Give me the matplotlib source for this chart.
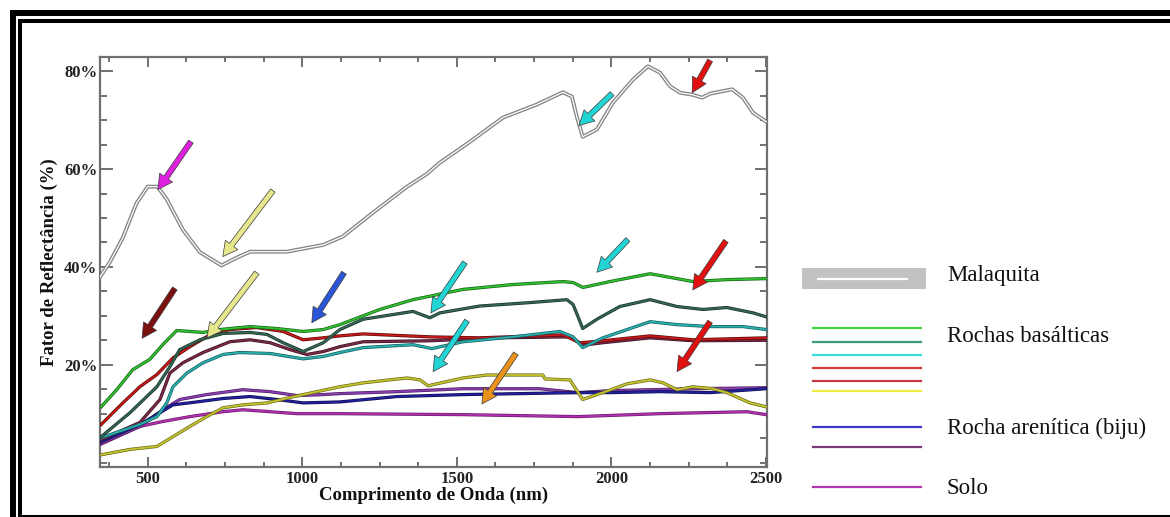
import matplotlib
matplotlib.use("Agg")
import matplotlib.pyplot as plt
import matplotlib.patheffects as pe
from matplotlib.lines import Line2D
from matplotlib.patches import Rectangle
from matplotlib.ticker import MultipleLocator, FuncFormatter

# ---------------- data ----------------
mal_wl = [346, 378, 420, 464, 500, 532, 562, 614, 669, 739, 789, 831, 950, 1068, 1131, 1229, 1339,
          1403, 1445, 1543, 1649, 1759, 1843, 1872, 1888, 1907, 1953, 2005, 2070, 2118, 2157, 2190,
          2222, 2261, 2293, 2319, 2390, 2425, 2458, 2500]
mal = [37.9, 41.0, 46.0, 53.0, 56.4, 56.4, 53.8, 47.6, 43.0, 40.3, 41.9, 43.1, 43.1, 44.5, 46.2, 51.1,
       56.4, 59.0, 61.3, 65.6, 70.5, 73.2, 75.7, 74.8, 70.7, 66.6, 68.1, 73.6, 78.3, 81.0, 79.7, 76.9,
       75.6, 75.2, 74.6, 75.4, 76.3, 74.6, 71.5, 69.7]

green_wl = [350, 400, 452, 507, 549, 594, 637, 679, 734, 831, 918, 1003, 1068, 1122, 1251, 1358, 1520,
            1682, 1843, 1876, 1908, 1995, 2125, 2264, 2373, 2500]
green = [11.4, 14.9, 19.0, 21.1, 24.1, 27.0, 26.8, 26.6, 27.2, 27.8, 27.4, 26.8, 27.2, 28.2, 31.3, 33.3,
         35.4, 36.4, 37.0, 36.8, 35.8, 37.0, 38.6, 37.0, 37.4, 37.6]

teal_wl = [350, 443, 530, 572, 604, 669, 744, 831, 886, 938, 1003, 1068, 1122, 1197, 1358, 1413, 1445,
           1574, 1736, 1856, 1876, 1892, 1907, 1953, 2027, 2125, 2212, 2296, 2373, 2458, 2500]
teal = [5.3, 10.2, 15.5, 19.6, 23.1, 25.1, 26.4, 26.6, 26.2, 24.5, 22.7, 24.5, 27.2, 29.3, 30.9, 29.6,
        30.6, 32.0, 32.7, 33.3, 32.3, 29.8, 27.4, 29.3, 31.9, 33.3, 31.9, 31.3, 31.7, 30.6, 29.8]

cyan_wl = [350, 475, 530, 562, 582, 627, 679, 744, 798, 896, 1003, 1068, 1122, 1197, 1358, 1419, 1520,
           1682, 1833, 1876, 1907, 1972, 2125, 2212, 2319, 2425, 2500]
cyan = [5.1, 7.8, 9.4, 12.2, 15.5, 18.3, 20.4, 22.1, 22.5, 22.3, 21.2, 21.7, 22.5, 23.5, 24.1, 23.3,
        24.7, 25.7, 26.8, 25.7, 23.5, 25.5, 28.8, 28.2, 27.8, 27.8, 27.2]

red_wl = [350, 420, 475, 530, 582, 637, 701, 766, 853, 938, 1003, 1068, 1122, 1197, 1413, 1574, 1843,
          1898, 1940, 2125, 2264, 2500]
red = [7.8, 12.2, 15.5, 18.0, 21.4, 23.7, 26.1, 27.2, 27.6, 26.8, 25.1, 25.5, 25.9, 26.3, 25.7, 25.5,
       26.1, 24.5, 24.7, 25.9, 25.1, 25.5]

maroon_wl = [350, 475, 540, 572, 614, 679, 766, 831, 896, 960, 1015, 1068, 1122, 1197, 1413, 1629,
             1866, 1907, 1972, 2125, 2264, 2500]
maroon = [4.7, 8.2, 12.9, 18.3, 20.4, 22.5, 24.7, 25.1, 24.5, 23.1, 22.1, 22.7, 23.7, 24.7, 24.9, 25.5,
          25.7, 24.0, 24.5, 25.5, 24.9, 25.0]

yellow_wl = [350, 443, 530, 582, 637, 691, 744, 808, 886, 960, 1047, 1122, 1197, 1339, 1381, 1407,
             1520, 1597, 1778, 1785, 1866, 1880, 1907, 1972, 2050, 2125, 2167, 2212, 2264, 2329, 2373,
             2448, 2500]
yellow = [1.6, 2.7, 3.3, 5.3, 7.4, 9.4, 11.2, 11.8, 12.2, 13.3, 14.5, 15.5, 16.3, 17.3, 16.9, 15.7,
          17.3, 17.9, 17.9, 17.1, 16.9, 15.5, 12.9, 14.3, 16.1, 16.9, 16.3, 14.9, 15.5, 15.1, 14.3,
          12.2, 11.4]

blue_wl = [350, 475, 540, 582, 659, 744, 831, 918, 1003, 1122, 1306, 1520, 1891, 1995, 2157, 2319, 2500]
blue = [4.3, 7.8, 10.2, 11.8, 12.4, 13.1, 13.5, 12.9, 12.2, 12.4, 13.5, 13.9, 14.3, 14.3, 14.5, 14.3, 15.1]

purple_wl = [350, 475, 549, 604, 691, 808, 896, 983, 1068, 1122, 1306, 1520, 1768, 1891, 1995, 2264, 2500]
purple = [4.0, 7.4, 10.8, 12.9, 13.9, 14.9, 14.5, 13.7, 13.9, 14.1, 14.5, 15.1, 15.1, 14.3, 14.7, 15.1, 15.3]

solo_wl = [350, 475, 549, 637, 744, 808, 896, 983, 1122, 1520, 1891, 2157, 2438, 2500]
solo = [3.8, 7.4, 8.4, 9.4, 10.4, 10.8, 10.4, 10.0, 10.0, 9.8, 9.4, 10.0, 10.4, 9.8]

# arrows: tail / head positions (data units) and colours
arrow_tail_wl = [640, 905, 2002, 2319, 588, 853, 1135, 1526, 1533, 1691, 2053, 2370, 2319]
arrow_tail_v = [65.6, 55.6, 75.4, 82.2, 35.6, 38.8, 38.8, 40.9, 29.0, 22.3, 45.6, 45.3, 28.8]
arrow_head_wl = [533, 743, 1895, 2261, 482, 692, 1031, 1416, 1423, 1581, 1953, 2263, 2212]
arrow_head_v = [55.8, 42.1, 68.9, 75.6, 25.4, 25.5, 28.6, 30.6, 18.6, 12.0, 38.9, 35.3, 18.6]
arrow_colors = ["#e020e0", "#e6e68c", "#22d4d4", "#e01010", "#7a1010", "#e6e68c", "#2a55d8",
                "#22d4d4", "#22d4d4", "#e8921c", "#22d4d4", "#e01010", "#e01010"]

x_ticks = [500, 1000, 1500, 2000, 2500]
y_ticks = [20, 40, 60, 80]

legend_groups = ["Malaquita", "Rochas basálticas", "Rocha arenítica (biju)", "Solo"]

# ---------------- figure ----------------
W, H = 1170, 517
fig = plt.figure(figsize=(W / 100, H / 100), dpi=100)
fig.patch.set_facecolor("white")

ax = fig.add_axes([100 / W, 1 - 467 / H, 667 / W, 410 / H])
ax.set_xlim(346, 2503)
ax.set_ylim(-0.9, 82.9)

serif = ["Liberation Serif", "DejaVu Serif"]

def curve(x, y, col, edge, lw=1.3):
    ax.plot(x, y, color=col, lw=lw, solid_joinstyle="round", zorder=3,
            path_effects=[pe.Stroke(linewidth=lw + 1.0, foreground=edge), pe.Normal()])

# malaquita: double gray line (gray outline with white core)
ax.plot(mal_wl, mal, color="white", lw=0.9, zorder=4, solid_joinstyle="round",
        path_effects=[pe.Stroke(linewidth=2.8, foreground="#858585"), pe.Normal()])

curve(solo_wl, solo, "#b030b0", "#6a1a6a")
curve(purple_wl, purple, "#8a3cb0", "#4a2060")
curve(blue_wl, blue, "#2020a0", "#10104a")
curve(yellow_wl, yellow, "#c4c430", "#6a6a18")
curve(maroon_wl, maroon, "#7a2a48", "#3a1020")
curve(red_wl, red, "#c81818", "#5a0a0a")
curve(cyan_wl, cyan, "#2ab0b0", "#145a5a")
curve(teal_wl, teal, "#336655", "#1a3328")
curve(green_wl, green, "#30c030", "#156015")

for tx, tv, hx, hv, col in zip(arrow_tail_wl, arrow_tail_v, arrow_head_wl, arrow_head_v, arrow_colors):
    ax.annotate("", xy=(hx, hv), xytext=(tx, tv), zorder=6,
                arrowprops=dict(arrowstyle="simple,head_length=0.75,head_width=0.8,tail_width=0.28",
                                fc=col, ec="#3a3a3a", lw=0.5, mutation_scale=14,
                                shrinkA=0, shrinkB=0))

# axes styling
for sp in ax.spines.values():
    sp.set_color("#707070")
    sp.set_linewidth(1.6)
ax.set_xticks(x_ticks)
ax.set_yticks(y_ticks)
ax.xaxis.set_minor_locator(MultipleLocator(125))
ax.yaxis.set_minor_locator(MultipleLocator(5))
ax.yaxis.set_major_formatter(FuncFormatter(lambda v, p: f"{int(v)}%"))
ax.tick_params(which="both", direction="in", top=True, right=True, color="#707070", width=1.4)
ax.tick_params(which="major", axis="y", length=9)
ax.tick_params(which="minor", axis="y", length=5)
ax.tick_params(which="major", axis="x", length=7)
ax.tick_params(which="minor", axis="x", length=3.5)
ax.tick_params(axis="x", pad=3)
ax.tick_params(axis="y", pad=2)
for lab in ax.get_xticklabels() + ax.get_yticklabels():
    lab.set_fontfamily(serif)
    lab.set_fontweight("bold")
    lab.set_fontsize(12)
    lab.set_color("#222222")
ax.set_xlabel("Comprimento de Onda (nm)", family=serif, weight="bold", fontsize=13.5,
              color="#111111", labelpad=0)
ax.set_ylabel("Fator de Reflectância (%)", family=serif, weight="bold", fontsize=13.5,
              color="#111111", labelpad=4)

# ---------------- legend (custom, in figure pixels) ----------------
def fx(px):
    return px / W

def fy(py):
    return 1 - py / H

fig.add_artist(Rectangle((fx(802), fy(289)), fx(926) - fx(802), fy(268) - fy(289),
                         transform=fig.transFigure, facecolor="#c2c2c2", edgecolor="none"))
fig.add_artist(Line2D([fx(818), fx(907)], [fy(278.5), fy(278.5)], transform=fig.transFigure,
                      color="white", lw=1.6))

leg_y = [328, 342, 355, 368, 381, 391, 427, 447, 487]
leg_c = ["#3ad83a", "#3a9a80", "#3adede", "#d83a3a", "#c83a48", "#eeee40", "#3a3ac8", "#7a3a78",
         "#b03ab0"]
for yy, cc in zip(leg_y, leg_c):
    fig.add_artist(Line2D([fx(813), fx(921)], [fy(yy), fy(yy)], transform=fig.transFigure,
                          color=cc, lw=1.6))

text_y = [276, 337, 428, 489]
for t, yy in zip(legend_groups, text_y):
    fig.text(fx(947), fy(yy), t, family=serif, fontsize=16.5, va="center", ha="left",
             color="#111111")

# ---------------- double border ----------------
def hline(y, x0, x1, lw):
    fig.add_artist(Line2D([fx(x0), fx(x1)], [fy(y), fy(y)], transform=fig.transFigure,
                          color="black", lw=lw, solid_capstyle="butt"))

def vline(x, y0, y1, lw):
    fig.add_artist(Line2D([fx(x), fx(x)], [fy(y0), fy(y1)], transform=fig.transFigure,
                          color="black", lw=lw, solid_capstyle="butt"))

hline(13, 10, 1170, 4.3)
vline(13, 10, 517, 4.3)
hline(21, 18, 1170, 2.9)
vline(20, 19, 517, 2.9)
hline(516, 18, 1170, 2.2)

fig.savefig("out.png", dpi=100)
